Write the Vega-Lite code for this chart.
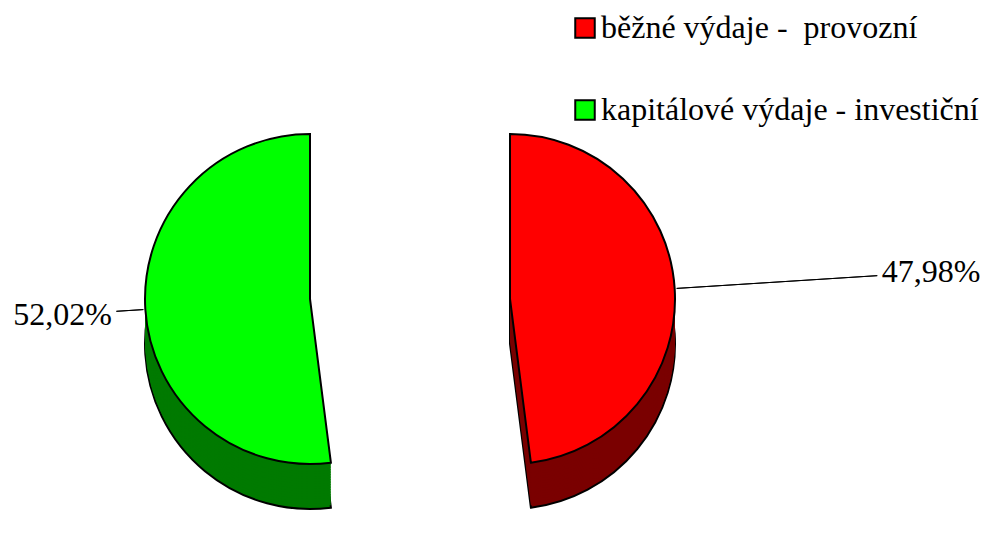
{
  "$schema": "https://vega.github.io/schema/vega-lite/v6.json",
  "width": 987,
  "height": 558,
  "autosize": {"type": "fit", "contains": "padding"},
  "padding": 0,
  "background": "white",
  "config": {"view": {"stroke": null}, "font": "Liberation Serif"},
  "data": {
    "values": [
      {"kategorie": "běžné výdaje -  provozní", "podil": 47.98, "popisek": "47,98%"},
      {"kategorie": "kapitálové výdaje - investiční", "podil": 52.02, "popisek": "52,02%"}
    ]
  },
  "transform": [
    {"stack": "podil", "groupby": [], "sort": [{"field": "kategorie", "order": "ascending"}], "as": ["v0", "v1"]}
  ],
  "encoding": {
    "x": {
      "field": "kategorie",
      "type": "nominal",
      "scale": {"type": "point", "padding": 0, "domain": ["kapitálové výdaje - investiční", "běžné výdaje -  provozní"], "range": [310, 510]},
      "axis": null
    }
  },
  "layer": [
    {
      "encoding": {
        "theta": {"field": "v0", "type": "quantitative", "stack": null, "scale": {"domain": [0, 100]}},
        "theta2": {"field": "v1"},
        "fill": {"condition": {"test": "datum.kategorie === 'běžné výdaje -  provozní'", "value": "#7A0000"}, "value": "#007A00"}
      },
      "layer": [
        {"mark": {"type": "arc", "radius": 165, "yOffset": 65, "stroke": "black", "strokeWidth": 2}},
        {"mark": {"type": "arc", "radius": 165, "yOffset": 62.5, "strokeWidth": 0}},
        {"mark": {"type": "arc", "radius": 165, "yOffset": 60, "strokeWidth": 0}},
        {"mark": {"type": "arc", "radius": 165, "yOffset": 57.5, "strokeWidth": 0}},
        {"mark": {"type": "arc", "radius": 165, "yOffset": 55, "strokeWidth": 0}},
        {"mark": {"type": "arc", "radius": 165, "yOffset": 52.5, "strokeWidth": 0}},
        {"mark": {"type": "arc", "radius": 165, "yOffset": 50, "strokeWidth": 0}},
        {"mark": {"type": "arc", "radius": 165, "yOffset": 47.5, "strokeWidth": 0}},
        {"mark": {"type": "arc", "radius": 165, "yOffset": 45, "strokeWidth": 0}},
        {"mark": {"type": "arc", "radius": 165, "yOffset": 42.5, "strokeWidth": 0}},
        {"mark": {"type": "arc", "radius": 165, "yOffset": 40, "strokeWidth": 0}},
        {"mark": {"type": "arc", "radius": 165, "yOffset": 37.5, "strokeWidth": 0}},
        {"mark": {"type": "arc", "radius": 165, "yOffset": 35, "strokeWidth": 0}},
        {"mark": {"type": "arc", "radius": 165, "yOffset": 32.5, "strokeWidth": 0}},
        {"mark": {"type": "arc", "radius": 165, "yOffset": 30, "strokeWidth": 0}},
        {"mark": {"type": "arc", "radius": 165, "yOffset": 27.5, "strokeWidth": 0}},
        {"mark": {"type": "arc", "radius": 165, "yOffset": 25, "strokeWidth": 0}},
        {"mark": {"type": "arc", "radius": 165, "yOffset": 22.5, "strokeWidth": 0}}
      ]
    },
    {
      "mark": {"type": "arc", "radius": 165, "yOffset": 20, "stroke": "black", "strokeWidth": 2, "opacity": 1},
      "encoding": {
        "theta": {"field": "v0", "type": "quantitative", "stack": null, "scale": {"domain": [0, 100]}},
        "theta2": {"field": "v1"},
        "color": {
          "field": "kategorie",
          "type": "nominal",
          "scale": {"domain": ["běžné výdaje -  provozní", "kapitálové výdaje - investiční"], "range": ["#FF0000", "#00FF00"]},
          "legend": {
            "title": null,
            "orient": "none",
            "legendX": 569,
            "legendY": 12,
            "symbolType": "square",
            "symbolSize": 380,
            "symbolStrokeColor": "black",
            "symbolStrokeWidth": 2,
            "labelFont": "Liberation Serif",
            "labelFontSize": 32,
            "labelColor": "black",
            "labelOffset": 0,
            "labelLimit": 0,
            "rowPadding": 50,
            "labelExpr": "replace(datum.label, '-  ', '-\u00a0 ')"
          }
        }
      }
    },
    {
      "transform": [
        {"fold": ["v0", "v1"], "as": ["hranice", "uhel"]},
        {"aggregate": [{"op": "mean", "field": "uhel", "as": "stred"}], "groupby": ["kategorie", "popisek"]}
      ],
      "encoding": {
        "theta": {"field": "stred", "type": "quantitative", "stack": null, "scale": {"domain": [0, 100]}}
      },
      "layer": [
        {"transform": [{"filter": {"field": "kategorie", "equal": "běžné výdaje -  provozní"}}],
         "mark": {"type": "arc", "radius": 368, "radius2": 167, "yOffset": 20, "filled": false, "stroke": "black", "strokeWidth": 1},
         "encoding": {"theta2": {"field": "stred"}}},
        {"transform": [{"filter": {"field": "kategorie", "equal": "kapitálové výdaje - investiční"}}],
         "mark": {"type": "arc", "radius": 194, "radius2": 167, "yOffset": 20, "filled": false, "stroke": "black", "strokeWidth": 1},
         "encoding": {"theta2": {"field": "stred"}}},
        {"transform": [{"filter": {"field": "kategorie", "equal": "běžné výdaje -  provozní"}}],
         "mark": {"type": "text", "radius": 422, "yOffset": 20, "font": "Liberation Serif", "fontSize": 32, "color": "black"},
         "encoding": {"text": {"field": "popisek"}}},
        {"transform": [{"filter": {"field": "kategorie", "equal": "kapitálové výdaje - investiční"}}],
         "mark": {"type": "text", "radius": 248, "yOffset": 20, "font": "Liberation Serif", "fontSize": 32, "color": "black"},
         "encoding": {"text": {"field": "popisek"}}}
      ]
    }
  ]
}
